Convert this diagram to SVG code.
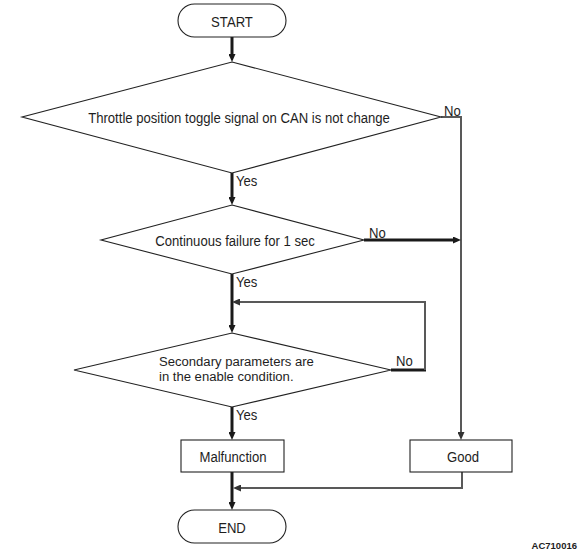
<svg xmlns="http://www.w3.org/2000/svg" width="583" height="558" viewBox="0 0 583 558">
<style>
  .t{font-family:"Liberation Sans",Arial,sans-serif;font-size:15px;fill:#1e1e1e}
  .t2{font-family:"Liberation Sans",Arial,sans-serif;font-size:13.5px;fill:#1e1e1e}
  .lbl{font-family:"Liberation Sans",Arial,sans-serif;font-size:15px;fill:#1e1e1e}
  .shape{fill:#fff;stroke:#222;stroke-width:1.1}
  .thick{fill:none;stroke:#1a1a1a;stroke-width:3}
  .thin{fill:none;stroke:#595959;stroke-width:2}
  .code{font-family:"Liberation Sans",Arial,sans-serif;font-size:9.5px;font-weight:bold;fill:#1e1e1e}
</style>
<defs>
  <marker id="ah" viewBox="0 0 8 7" refX="2" refY="3.5" markerWidth="8" markerHeight="7" markerUnits="userSpaceOnUse" orient="auto">
    <path d="M0,0 L8,3.5 L0,7 z" fill="#1a1a1a"/>
  </marker>
  <marker id="ahg" viewBox="0 0 8 7" refX="2" refY="3.5" markerWidth="8" markerHeight="7" markerUnits="userSpaceOnUse" orient="auto">
    <path d="M0,0 L8,3.5 L0,7 z" fill="#333"/>
  </marker>
</defs>
<rect width="583" height="558" fill="#fff"/>

<g id="connectors">
  <path class="thick" d="M232,37 V56" marker-end="url(#ah)"/>
  <path class="thick" d="M232,173 V199" marker-end="url(#ah)"/>
  <path class="thin" d="M441,117 H461 V434" marker-end="url(#ahg)"/>
  <path class="thick" d="M364,240 H455" marker-end="url(#ah)"/>
  <path class="thick" d="M232,274 V327" marker-end="url(#ah)"/>
  <path class="thick" d="M391,370 H426"/>
  <path class="thin" d="M425,370 V302 H238" marker-end="url(#ahg)"/>
  <path class="thick" d="M232,407 V434" marker-end="url(#ah)"/>
  <path class="thick" d="M232,472 V504" marker-end="url(#ah)"/>
  <path class="thin" d="M462,472 V488 H239" marker-end="url(#ahg)"/>
</g>

<g id="labels">
  <text class="lbl" transform="translate(444 115.5) scale(0.875 1)">No</text>
  <text class="lbl" transform="translate(236 185.5) scale(0.875 1)">Yes</text>
  <text class="lbl" transform="translate(369 238) scale(0.875 1)">No</text>
  <text class="lbl" transform="translate(236 287) scale(0.875 1)">Yes</text>
  <text class="lbl" transform="translate(396 366) scale(0.875 1)">No</text>
  <text class="lbl" transform="translate(236 419.5) scale(0.875 1)">Yes</text>
</g>

<g id="start">
  <rect class="shape" x="178" y="4" width="108" height="33" rx="16.5"/>
  <text class="t" text-anchor="middle" transform="translate(232 26.5) scale(0.875 1)">START</text>
</g>

<g id="decision-throttle">
  <polygon class="shape" points="232,62 441,117 232,173 22,117"/>
  <text class="t" text-anchor="middle" transform="translate(239 122.5) scale(0.875 1)">Throttle position toggle signal on CAN is not change</text>
</g>

<g id="decision-failure">
  <polygon class="shape" points="232,205 364,240 232,274 101,240"/>
  <text class="t" text-anchor="middle" transform="translate(235 245.5) scale(0.875 1)">Continuous failure for 1 sec</text>
</g>

<g id="decision-secondary">
  <polygon class="shape" points="232,333 391,370 232,407 74,370"/>
  <text class="t2" transform="translate(159 366) scale(0.97 1)"><tspan x="0" y="0">Secondary parameters are</tspan><tspan x="0" y="15.5">in the enable condition.</tspan></text>
</g>

<g id="malfunction">
  <rect class="shape" x="181" y="440" width="103" height="32"/>
  <text class="t" text-anchor="middle" transform="translate(233 462) scale(0.875 1)">Malfunction</text>
</g>

<g id="good">
  <rect class="shape" x="410" y="440" width="102" height="32"/>
  <text class="t" text-anchor="middle" transform="translate(463 462) scale(0.875 1)">Good</text>
</g>

<g id="end">
  <rect class="shape" x="178" y="510" width="108" height="33" rx="16.5"/>
  <text class="t" text-anchor="middle" transform="translate(232 533) scale(0.875 1)">END</text>
</g>

<text class="code" x="577" y="549" text-anchor="end">AC710016</text>
</svg>
